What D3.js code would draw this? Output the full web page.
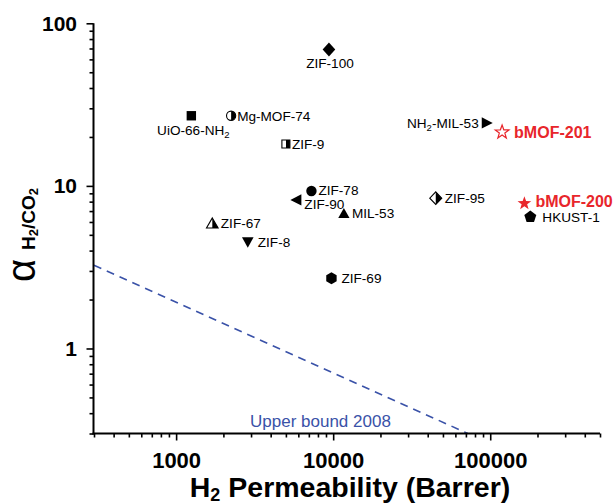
<!DOCTYPE html>
<html><head><meta charset="utf-8">
<script src="https://cdn.jsdelivr.net/npm/d3@7"></script>
<style>body{margin:0;background:#fff}svg{display:block}text{font-family:"Liberation Sans",Arial,sans-serif}</style>
</head><body><svg id="c" width="614" height="504"></svg>
<script>
// ---- data ----
const materials = ["ZIF-100","UiO-66-NH2","Mg-MOF-74","ZIF-9","NH2-MIL-53","bMOF-201","ZIF-95","bMOF-200","HKUST-1","ZIF-78","ZIF-90","MIL-53","ZIF-67","ZIF-8","ZIF-69"];
const h2Permeability = [9400,1250,2240,5000,95000,119000,45000,165000,180000,7270,5830,11700,1700,2860,9750];
const selectivity = [69,27,27,18.1,24.4,21.4,8.4,7.8,6.45,9.3,8.2,6.8,5.9,4.5,2.7];
const markerShape = ["diamond","square","halfCircle","halfSquare","triRight","starOpen","halfDiamond","star","pentagon","circle","triLeft","triUp","halfTriUp","triDown","hexagon"];
const highlighted = ["bMOF-201","bMOF-200"];
const upperBoundP = [300, 72000];
const upperBoundAlpha = [3.25, 0.3];
const upperBoundLabel = "Upper bound 2008";
const xMajorTicks = [1000,10000,100000];
const yMajorTicks = [1,10,100];
const xDomain = [300, 500000];
const yDomain = [0.3, 100];

// ---- label placement (layout) ----
const labelPlace = {
  "ZIF-100":{dx:1,dy:14,anchor:"middle"},
  "UiO-66-NH2":{dx:2,dy:14,anchor:"middle"},
  "Mg-MOF-74":{dx:6,dy:0,anchor:"start"},
  "ZIF-9":{dx:6,dy:0,anchor:"start"},
  "NH2-MIL-53":{dx:-8,dy:0,anchor:"end"},
  "bMOF-201":{dx:12,dy:0,anchor:"start"},
  "ZIF-95":{dx:9,dy:0,anchor:"start"},
  "bMOF-200":{dx:11,dy:-2,anchor:"start"},
  "HKUST-1":{dx:12,dy:0,anchor:"start"},
  "ZIF-78":{dx:7,dy:-0.5,anchor:"start"},
  "ZIF-90":{dx:8,dy:4,anchor:"start"},
  "MIL-53":{dx:8,dy:0,anchor:"start"},
  "ZIF-67":{dx:8.5,dy:0,anchor:"start"},
  "ZIF-8":{dx:10,dy:0,anchor:"start"},
  "ZIF-69":{dx:10,dy:0,anchor:"start"}
};

const svg = d3.select("#c");
const x = d3.scaleLog().domain(xDomain).range([94, 600]);
const y = d3.scaleLog().domain(yDomain).range([433.5, 23.3]);
const RED = "#e8262b", BLUE = "#3a52a8";

// clip for half-filled markers (right half)
svg.append("defs").append("clipPath").attr("id","rh")
  .append("rect").attr("x",0).attr("y",-20).attr("width",20).attr("height",40);

// upper bound line
svg.append("path")
  .datum(upperBoundP.map((p,i)=>[p, upperBoundAlpha[i]]))
  .attr("d", d3.line().x(d=>x(d[0])).y(d=>y(d[1])))
  .attr("fill","none").attr("stroke",BLUE).attr("stroke-width",1.6)
  .attr("stroke-dasharray","8,6");
svg.append("text").attr("x", x(8300)).attr("y", 427)
  .attr("text-anchor","middle").attr("font-size",17).attr("fill",BLUE)
  .text(upperBoundLabel);

// axes
const xMinor = x.ticks().filter(v => !xMajorTicks.includes(v));
const yMinor = y.ticks().filter(v => !yMajorTicks.includes(v));
function styleAxis(g){ g.select(".domain").remove(); g.selectAll("line").attr("stroke","#000").attr("stroke-width",1.6); }

const yb = 433.5, xl = 93.5;
svg.append("g").attr("transform",`translate(0,${yb})`)
  .call(d3.axisBottom(x).tickValues(xMinor).tickSize(4).tickFormat(""))
  .call(styleAxis);
const gx = svg.append("g").attr("transform",`translate(0,${yb})`)
  .call(d3.axisBottom(x).tickValues(xMajorTicks).tickSize(7).tickPadding(12).tickFormat(d3.format("d")))
  .call(styleAxis);
gx.selectAll("text").attr("font-size",22).attr("font-weight","bold").attr("fill","#000")
  .attr("font-family",'"Liberation Sans",Arial,sans-serif');

svg.append("g").attr("transform",`translate(${xl},0)`)
  .call(d3.axisLeft(y).tickValues(yMinor).tickSize(4).tickFormat(""))
  .call(styleAxis);
const gy = svg.append("g").attr("transform",`translate(${xl},0)`)
  .call(d3.axisLeft(y).tickValues(yMajorTicks).tickSize(7).tickPadding(9.5).tickFormat(d3.format("d")))
  .call(styleAxis);
gy.selectAll("text").attr("font-size",21).attr("font-weight","bold").attr("fill","#000")
  .attr("font-family",'"Liberation Sans",Arial,sans-serif');

// axis lines
svg.append("line").attr("x1",xl).attr("x2",xl).attr("y1",y(yDomain[1])).attr("y2",yb+1)
  .attr("stroke","#000").attr("stroke-width",2);
svg.append("line").attr("x1",xl-1).attr("x2",x(xDomain[1])).attr("y1",yb).attr("y2",yb)
  .attr("stroke","#000").attr("stroke-width",2);

// axis titles
const xt = svg.append("text").attr("x",350).attr("y",497).attr("text-anchor","middle")
  .attr("font-size",28.5).attr("font-weight","bold").attr("fill","#000");
xt.append("tspan").text("H");
xt.append("tspan").attr("font-size",18).attr("dy",4).text("2");
xt.append("tspan").attr("dy",-4).text(" Permeability (Barrer)");

const yt = svg.append("text").attr("transform","translate(35,235) rotate(-90)")
  .attr("text-anchor","middle").attr("fill","#000");
yt.append("tspan").attr("font-size",40).text("α");
yt.append("tspan").attr("font-size",19).attr("font-weight","bold").attr("dx",9).text("H");
yt.append("tspan").attr("font-size",13).attr("font-weight","bold").attr("dy",3).text("2");
yt.append("tspan").attr("font-size",19).attr("font-weight","bold").attr("dy",-3).text("/CO");
yt.append("tspan").attr("font-size",13).attr("font-weight","bold").attr("dy",3).text("2");

// marker paths
function poly(pts){ return "M"+pts.map(p=>p.join(",")).join("L")+"Z"; }
function regular(n, R, rot){ const a=[]; for(let i=0;i<n;i++){const t=rot+i*2*Math.PI/n; a.push([R*Math.sin(t),-R*Math.cos(t)]);} return a; }
function starPts(R, r){ const a=[]; for(let i=0;i<10;i++){const t=i*Math.PI/5; const rr=i%2?r:R; a.push([rr*Math.sin(t),-rr*Math.cos(t)]);} return a; }
const shapes = {
  diamond: poly([[0,-7],[6.3,0],[0,7],[-6.3,0]]),
  halfDiamond: poly([[0,-6.3],[6,0],[0,6.3],[-6,0]]),
  square: poly([[-4.7,-4.7],[4.7,-4.7],[4.7,4.7],[-4.7,4.7]]),
  halfSquare: poly([[-4,-4],[4,-4],[4,4],[-4,4]]),
  circle: d3.symbol(d3.symbolCircle, Math.PI*5.2*5.2)(),
  halfCircle: d3.symbol(d3.symbolCircle, Math.PI*4.6*4.6)(),
  triUp: poly([[0,-5.2],[5.6,4.8],[-5.6,4.8]]),
  halfTriUp: poly([[0,-5.2],[5.8,4.8],[-5.8,4.8]]),
  triDown: poly([[0,5.5],[5.8,-5],[-5.8,-5]]),
  triRight: poly([[6,0],[-5,-5.6],[-5,5.6]]),
  triLeft: poly([[-6,0],[5,-5.6],[5,5.6]]),
  star: poly(starPts(7.2, 2.9)),
  starOpen: poly(starPts(7.2, 2.9)),
  pentagon: poly(regular(5, 6.3, 0)),
  hexagon: poly(regular(6, 6, 0))
};

const pts = materials.map((m,i)=>({name:m, p:h2Permeability[i], a:selectivity[i], shape:markerShape[i]}));
const g = svg.append("g").selectAll("g").data(pts).join("g")
  .attr("transform", d=>`translate(${x(d.p)},${y(d.a)})`);

g.each(function(d){
  const s = d3.select(this);
  const hi = highlighted.includes(d.name);
  const col = hi ? RED : "#000";
  const path = shapes[d.shape];
  if (d.shape.startsWith("half")) {
    s.append("path").attr("d",path).attr("fill","#fff").attr("stroke","#000").attr("stroke-width",1.1);
    s.append("path").attr("d",path).attr("fill","#000").attr("clip-path","url(#rh)");
  } else if (d.shape === "starOpen") {
    s.append("path").attr("d",path).attr("fill","#fff").attr("stroke",col).attr("stroke-width",1.2);
  } else {
    s.append("path").attr("d",path).attr("fill",col);
  }
  const lp = labelPlace[d.name];
  const t = s.append("text").attr("x",lp.dx).attr("y",lp.dy).attr("dy","0.36em")
    .attr("text-anchor",lp.anchor)
    .attr("font-size", hi?16:13.6).attr("font-weight", hi?"bold":"normal").attr("fill",col);
  const m = d.name.match(/^(.*?NH)2(.*)$/);
  if (m) {
    t.append("tspan").text(m[1]);
    t.append("tspan").attr("font-size",9.5).attr("dy",3).text("2");
    if (m[2]) t.append("tspan").attr("dy",-3).text(m[2]);
  } else t.text(d.name);
});
</script></body></html>
